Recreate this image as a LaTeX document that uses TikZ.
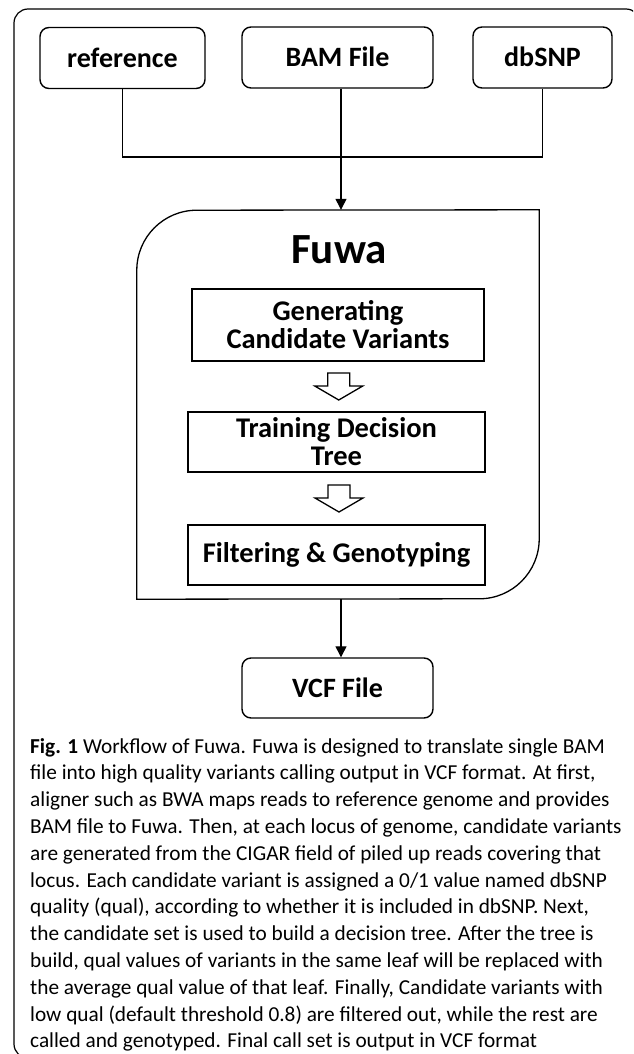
\documentclass[tikz,border=0pt]{standalone}
\usepackage{fontspec}
\setmainfont{Carlito}
\usetikzlibrary{calc,arrows.meta}
\tikzset{
  hollowarrow/.pic={\draw[line width=1.3pt,fill=white] (-11,-13.5) -- (11,-13.5) -- (11,-0.5) -- (24,-0.5) -- (0,13.5) -- (-24,-0.5) -- (-11,-0.5) -- cycle;}
}
\begin{document}
\begin{tikzpicture}[x=1pt,y=-1pt,
  topbox/.style={draw, line width=1.4pt, rounded corners=9pt, font=\bfseries\fontsize{28}{28}\selectfont, inner sep=0pt, text height=19pt, text depth=0pt},
  stepbox/.style={draw, line width=1.5pt, font=\bfseries\fontsize{28.5}{28}\selectfont, align=center, inner sep=0pt},
  conn/.style={line width=1.3pt},
  arr/.style={conn, -{Triangle[width=11pt,length=11pt]}},
  framebox/.style={line width=1.2pt}
]
\useasboundingbox (0,0) rectangle (633,1054);
\begin{scope}
\clip (0,0) rectangle (633,1054);
\draw[framebox, rounded corners=14pt] (14,9) rectangle (640,1058);
\end{scope}

% top inputs
\node[topbox, minimum width=165pt, minimum height=61pt] (ref) at (122.5,58) {reference};
\node[topbox, minimum width=191pt, minimum height=61pt] (bam) at (337.5,57.5) {BAM File};
\node[topbox, minimum width=139pt, minimum height=61pt] (snp) at (542.5,57.5) {dbSNP};

% Fuwa container
\node[minimum width=402pt, minimum height=389pt, inner sep=0pt] (fuwa) at (338,404.5) {};
\draw[line width=1.3pt] (fuwa.south west) -- ++(0,-329) arc[start angle=180,end angle=90,radius=60pt]
  -- (fuwa.north east) -- ++(0,329) arc[start angle=0,end angle=-90,radius=60pt] -- cycle;
\node[anchor=base, font=\bfseries\fontsize{43}{46}\selectfont, inner sep=0pt] (title) at (339,263) {Fuwa};

% steps
\node[stepbox, minimum width=292pt, minimum height=72pt] (g1) at (338,325) {Generating\\Candidate Variants};
\node[stepbox, minimum width=297pt, minimum height=60pt] (g2) at (336.5,442) {Training Decision\\Tree};
\node[stepbox, minimum width=297pt, minimum height=60pt] (g3) at (336.5,555) {Filtering \& Genotyping};
\pic at ($(g1.south)!0.5!(g2.north)+(1.5,0)$) {hollowarrow};
\pic at ($(g2.south)!0.5!(g3.north)+(2.5,0)$) {hollowarrow};

% output
\node[topbox, minimum width=191pt, minimum height=60pt] (vcf) at (337.5,688) {VCF File};

% connectors
\coordinate (join) at (341,157);
\draw[conn] (ref.south) |- (join) -| (snp.south);
\draw[arr] ([xshift=3.5pt]bam.south) -- ([xshift=3.5pt]bam.south |- fuwa.north);
\draw[arr] ([xshift=3.5pt]vcf.north |- fuwa.south) -- ([xshift=3.5pt]vcf.north);

% caption
\node[anchor=north west, inner sep=0pt, align=left, font=\fontsize{21.3}{26.8}\selectfont] (cap) at (30,738) {%
\textbf{Fig. 1} Workflow of Fuwa. Fuwa is designed to translate single BAM\\
file into high quality variants calling output in VCF format. At first,\\
aligner such as BWA maps reads to reference genome and provides\\
BAM file to Fuwa. Then, at each locus of genome, candidate variants\\
are generated from the CIGAR field of piled up reads covering that\\
locus. Each candidate variant is assigned a 0/1 value named dbSNP\\
quality (qual), according to whether it is included in dbSNP. Next,\\
the candidate set is used to build a decision tree. After the tree is\\
build, qual values of variants in the same leaf will be replaced with\\
the average qual value of that leaf. Finally, Candidate variants with\\
low qual (default threshold 0.8) are filtered out, while the rest are\\
called and genotyped. Final call set is output in VCF format};
\end{tikzpicture}
\end{document}
